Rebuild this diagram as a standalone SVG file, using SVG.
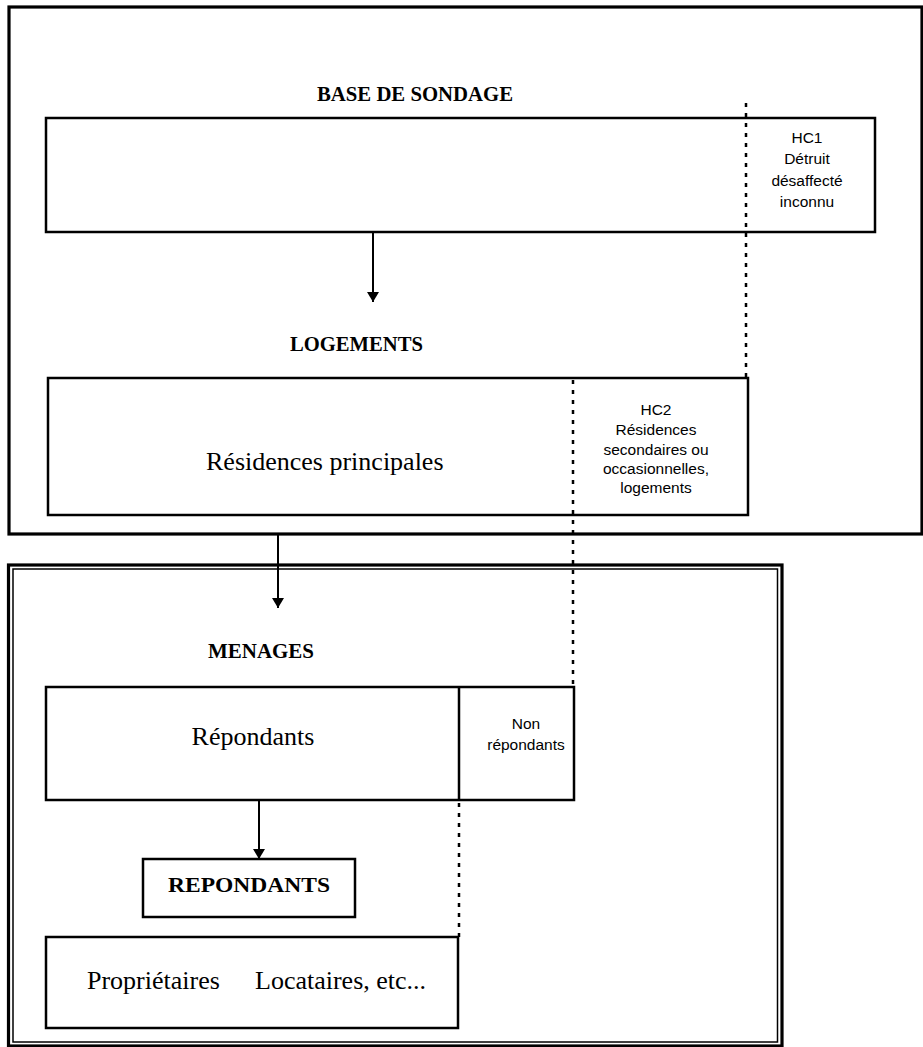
<svg xmlns="http://www.w3.org/2000/svg" width="923" height="1047" viewBox="0 0 923 1047">
<style>
.box{fill:none;stroke:#000;stroke-width:2.5}
.frame{fill:none;stroke:#000;stroke-width:3.2}
.thin{fill:none;stroke:#000;stroke-width:1.5}
.dot{fill:none;stroke:#000;stroke-width:2.5;stroke-dasharray:4 6}
.conn{fill:none;stroke:#000;stroke-width:2}
.title{font-family:"Liberation Serif","Times New Roman",serif;font-weight:bold;font-size:22px;fill:#000}
.big{font-family:"Liberation Serif","Times New Roman",serif;font-size:26px;fill:#000}
.small{font-family:"Liberation Sans",Arial,sans-serif;font-size:15.5px;fill:#000;text-anchor:middle}
</style>
<defs>
<marker id="ah" markerWidth="10" markerHeight="12" refX="10" refY="6" orient="auto" markerUnits="userSpaceOnUse" viewBox="0 0 10 12">
<path d="M0,0 L10,6 L0,12 Z" fill="#000"/>
</marker>
</defs>
<rect width="923" height="1047" fill="#fff"/>
<g id="frame-top"><rect class="frame" x="9" y="7" width="913" height="527"/></g>
<g id="frame-bottom">
<rect class="frame" x="8.5" y="565" width="773.5" height="481"/>
<rect class="thin" x="13" y="569" width="764.5" height="473"/>
</g>
<g id="base-sondage">
<text class="title" x="317" y="101" textLength="196" lengthAdjust="spacingAndGlyphs">BASE DE SONDAGE</text>
<rect class="box" x="46" y="118" width="829" height="114"/>
<text class="small" x="807" y="143">HC1</text>
<text class="small" x="807" y="164">Détruit</text>
<text class="small" x="807" y="186">désaffecté</text>
<text class="small" x="807" y="207">inconnu</text>
</g>
<g id="logements">
<text class="title" x="290" y="351" textLength="133" lengthAdjust="spacingAndGlyphs">LOGEMENTS</text>
<rect class="box" x="48" y="378" width="700" height="137"/>
<text class="big" x="206" y="470">Résidences principales</text>
<text class="small" x="656" y="415">HC2</text>
<text class="small" x="656" y="435">Résidences</text>
<text class="small" x="656" y="455">secondaires ou</text>
<text class="small" x="656" y="474">occasionnelles,</text>
<text class="small" x="656" y="493">logements</text>
</g>
<g id="menages">
<text class="title" x="208" y="658" textLength="106" lengthAdjust="spacingAndGlyphs">MENAGES</text>
<rect class="box" x="46" y="687" width="528" height="113"/>
<line class="box" x1="459" y1="687" x2="459" y2="800"/>
<text class="big" x="253" y="745" text-anchor="middle">Répondants</text>
<text class="small" x="526" y="729">Non</text>
<text class="small" x="526" y="750">répondants</text>
</g>
<g id="repondants">
<rect class="box" x="143" y="859" width="212" height="58"/>
<text class="title" x="168" y="892" textLength="162" lengthAdjust="spacingAndGlyphs">REPONDANTS</text>
</g>
<g id="proprietaires">
<rect class="box" x="46" y="937" width="412" height="91"/>
<text class="big" x="87" y="989">Propriétaires<tspan x="255">Locataires, etc...</tspan></text>
</g>
<g id="connectors">
<line class="conn" x1="373" y1="232" x2="373" y2="302" marker-end="url(#ah)"/>
<line class="conn" x1="278" y1="534" x2="278" y2="608" marker-end="url(#ah)"/>
<line class="conn" x1="259" y1="800" x2="259" y2="859" marker-end="url(#ah)"/>
<line class="dot" x1="746" y1="103" x2="746" y2="378"/>
<line class="dot" x1="573" y1="380" x2="573" y2="687"/>
<line class="dot" x1="459" y1="803" x2="459" y2="937"/>
</g>
</svg>
